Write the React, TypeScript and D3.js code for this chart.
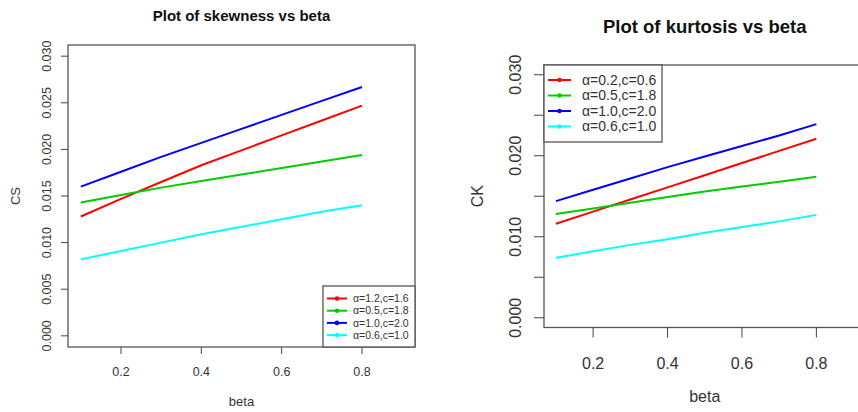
import { useMemo } from "react";
import * as d3 from "d3";

const betas = [0.1, 0.2, 0.3, 0.4, 0.5, 0.6, 0.7, 0.8];
const xTicks = [0.2, 0.4, 0.6, 0.8];
const yTicks = [0, 0.005, 0.01, 0.015, 0.02, 0.025, 0.03];

// skewness panel
const csRed = [0.0128, 0.0147, 0.0165, 0.0183, 0.0199, 0.0215, 0.0231, 0.0247];
const csGreen = [0.0143, 0.0151, 0.0159, 0.0166, 0.0173, 0.018, 0.0187, 0.0194];
const csBlue = [0.016, 0.0176, 0.0192, 0.0207, 0.0222, 0.0237, 0.0252, 0.0267];
const csCyan = [0.0082, 0.0091, 0.01, 0.0109, 0.0117, 0.0125, 0.0133, 0.014];
const csLabels = ["α=1.2,c=1.6", "α=0.5,c=1.8", "α=1.0,c=2.0", "α=0.6,c=1.0"];
const csYLabels = ["0.000", "0.005", "0.010", "0.015", "0.020", "0.025", "0.030"];

// kurtosis panel
const ckRed = [0.0116, 0.0131, 0.0146, 0.0161, 0.0176, 0.0191, 0.0206, 0.0221];
const ckGreen = [0.0128, 0.0135, 0.0142, 0.0149, 0.0156, 0.0162, 0.0168, 0.0174];
const ckBlue = [0.0144, 0.0158, 0.0172, 0.0186, 0.0199, 0.0212, 0.0225, 0.0239];
const ckCyan = [0.0074, 0.0082, 0.009, 0.0097, 0.0105, 0.0112, 0.0119, 0.0127];
const ckLabels = ["α=0.2,c=0.6", "α=0.5,c=1.8", "α=1.0,c=2.0", "α=0.6,c=1.0"];
const ckYLabels = ["0.000", "", "0.010", "", "0.020", "", "0.030"];

const colors = ["#ff0000", "#00cd00", "#0000ff", "#00ffff"];
const FONT = "'Liberation Sans', Arial, sans-serif";

interface PanelProps {
  title: string;
  ylab: string;
  series: number[][];
  labels: string[];
  yLabels: string[];
  box: { x0: number; x1: number; y0: number; y1: number };
  titleY: number;
  titleSize: number;
  tickSize: number;
  labSize: number;
  tickLen: number;
  tickLabelGap: number;
  xTickLabelY: number;
  xLabY: number;
  yLabX: number;
  legend: { x0: number; x1: number; y0: number; y1: number; rowY0: number; rowStep: number; fontSize: number; lineLen: number; textGap: number };
}

function Panel(p: PanelProps) {
  const { box } = p;
  // R style: 4% extension around xlim=c(0.1,0.9), ylim=c(0,0.03)
  const x = useMemo(() => d3.scaleLinear().domain([0.068, 0.932]).range([box.x0, box.x1]), [box]);
  const y = useMemo(() => d3.scaleLinear().domain([-0.0012, 0.0312]).range([box.y1, box.y0]), [box]);
  const line = d3.line<number>().x((_, i) => x(betas[i])).y((d) => y(d));
  const cx = (box.x0 + box.x1) / 2;
  const cy = (box.y0 + box.y1) / 2;
  const lg = p.legend;

  return (
    <g fontFamily={FONT}>
      <text x={cx} y={p.titleY} textAnchor="middle" fontWeight="bold" fontSize={p.titleSize} fill="#111">{p.title}</text>
      {p.series.map((s, i) => (
        <path key={i} d={line(s) ?? ""} fill="none" stroke={colors[i]} strokeWidth={2} />
      ))}
      <rect x={box.x0} y={box.y0} width={box.x1 - box.x0} height={box.y1 - box.y0} fill="none" stroke="#555" strokeWidth={1.3} />
      {/* y axis */}
      {yTicks.map((t, i) => (
        <g key={t}>
          <line x1={box.x0 - p.tickLen} x2={box.x0} y1={y(t)} y2={y(t)} stroke="#444" />
          {p.yLabels[i] && (
            <text transform={`translate(${box.x0 - p.tickLabelGap},${y(t)}) rotate(-90)`} textAnchor="middle" dy="0.35em" fontSize={p.tickSize} fill="#333">
              {p.yLabels[i]}
            </text>
          )}
        </g>
      ))}
      {/* x axis */}
      {xTicks.map((t) => (
        <g key={t}>
          <line x1={x(t)} x2={x(t)} y1={box.y1} y2={box.y1 + p.tickLen} stroke="#444" />
          <text x={x(t)} y={p.xTickLabelY} textAnchor="middle" fontSize={p.tickSize} fill="#333">{t.toFixed(1)}</text>
        </g>
      ))}
      <text x={cx} y={p.xLabY} textAnchor="middle" fontSize={p.labSize} fill="#333">beta</text>
      <text transform={`translate(${p.yLabX},${cy}) rotate(-90)`} textAnchor="middle" dy="0.35em" fontSize={p.labSize} fill="#333">{p.ylab}</text>
      {/* legend */}
      <rect x={lg.x0} y={lg.y0} width={lg.x1 - lg.x0} height={lg.y1 - lg.y0} fill="#fff" stroke="#555" strokeWidth={1.3} />
      {p.labels.map((lab, i) => {
        const ry = lg.rowY0 + i * lg.rowStep;
        const lx = lg.x0 + 4;
        return (
          <g key={lab}>
            <line x1={lx} x2={lx + lg.lineLen} y1={ry} y2={ry} stroke={colors[i]} strokeWidth={2} />
            <circle cx={lx + lg.lineLen / 2} cy={ry} r={2.3} fill={colors[i]} />
            <text x={lx + lg.lineLen + lg.textGap} y={ry} dy="0.35em" fontSize={lg.fontSize} fill="#333">{lab}</text>
          </g>
        );
      })}
    </g>
  );
}

export default function App() {
  return (
    <svg width={858} height={412} style={{ position: "fixed", left: 0, top: 0, background: "#fff" }}>
      <Panel
        title="Plot of skewness vs beta"
        ylab="CS"
        series={[csRed, csGreen, csBlue, csCyan]}
        labels={csLabels}
        yLabels={csYLabels}
        box={{ x0: 68, x1: 415, y0: 45, y1: 347 }}
        titleY={21}
        titleSize={15}
        tickSize={12.5}
        labSize={13}
        tickLen={7}
        tickLabelGap={21}
        xTickLabelY={376}
        xLabY={406}
        yLabX={15}
        legend={{ x0: 323, x1: 415, y0: 286, y1: 347, rowY0: 298.5, rowStep: 12.2, fontSize: 10.5, lineLen: 20, textGap: 6 }}
      />
      <Panel
        title="Plot of kurtosis vs beta"
        ylab="CK"
        series={[ckRed, ckGreen, ckBlue, ckCyan]}
        labels={ckLabels}
        yLabels={ckYLabels}
        box={{ x0: 544, x1: 865.5, y0: 65, y1: 327.5 }}
        titleY={33}
        titleSize={18.5}
        tickSize={16}
        labSize={16}
        tickLen={10}
        tickLabelGap={29}
        xTickLabelY={369}
        xLabY={402}
        yLabX={477}
        legend={{ x0: 544, x1: 662, y0: 65, y1: 142, rowY0: 80, rowStep: 15.5, fontSize: 14, lineLen: 23, textGap: 11 }}
      />
    </svg>
  );
}
